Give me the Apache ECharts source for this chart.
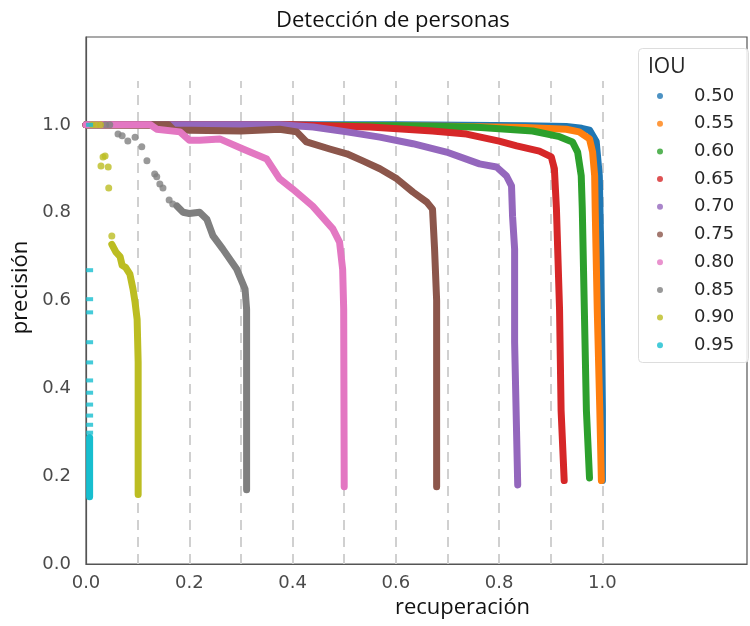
<!DOCTYPE html>
<html lang="es">
<head>
<meta charset="UTF-8">
<title>Detección de personas</title>
<style>
html, body { margin: 0; padding: 0; width: 100%; height: 100%; background: #fff; }
#main { width: 750px; height: 626px; }
</style>
</head>
<body>
<div id="main"></div>
<script src="https://cdn.jsdelivr.net/npm/echarts@6.0.0/dist/echarts.min.js"></script>
<script>
// IOU thresholds and matplotlib tab10 colours
var iouNames = ['0.50', '0.55', '0.60', '0.65', '0.70', '0.75', '0.80', '0.85', '0.90', '0.95'];
var iouColors = ['#1f77b4', '#ff7f0e', '#2ca02c', '#d62728', '#9467bd',
                 '#8c564b', '#e377c2', '#7f7f7f', '#bcbd22', '#17becf'];

// axis ticks and dashed guides
var recallTicks = [0, 0.2, 0.4, 0.6, 0.8, 1.0];
var precisionTicks = [0, 0.2, 0.4, 0.6, 0.8, 1.0];
var guideX = [0.1, 0.2, 0.3, 0.4, 0.5, 0.6, 0.7, 0.8, 0.9, 1.0];
var guideTop = 1.1;

// [recall, precision]
var curve50 = [[0, 1], [0.6, 1], [0.85, 0.998], [0.93, 0.996], [0.96, 0.992], [0.975, 0.988],
  [0.988, 0.962], [0.994, 0.884], [0.997, 0.7], [1.0, 0.35], [1.0, 0.19]];
var curve55 = [[0, 1], [0.7, 0.997], [0.85, 0.994], [0.93, 0.99], [0.955, 0.984], [0.975, 0.968],
  [0.981, 0.938], [0.985, 0.884], [0.986, 0.81], [0.99, 0.58], [0.995, 0.35], [0.998, 0.19]];
var curve60 = [[0, 1], [0.607, 0.998], [0.75, 0.995], [0.865, 0.986], [0.917, 0.973], [0.942, 0.961],
  [0.952, 0.938], [0.959, 0.884], [0.961, 0.81], [0.965, 0.58], [0.969, 0.35], [0.975, 0.196]];
var curve65 = [[0, 1], [0.4, 1], [0.55, 0.995], [0.671, 0.986], [0.737, 0.979], [0.8, 0.963],
  [0.834, 0.952], [0.878, 0.94], [0.901, 0.927], [0.907, 0.9], [0.911, 0.808], [0.917, 0.58],
  [0.92, 0.35], [0.926, 0.19]];
var curve70 = [[0, 1], [0.375, 1], [0.44, 0.995], [0.505, 0.984], [0.569, 0.972], [0.633, 0.957],
  [0.698, 0.938], [0.762, 0.911], [0.795, 0.904], [0.814, 0.884], [0.824, 0.861], [0.826, 0.792],
  [0.83, 0.717], [0.83, 0.505], [0.836, 0.18]];
var curve75 = [[0, 1], [0.16, 1], [0.17, 0.988], [0.3, 0.986], [0.375, 0.99], [0.408, 0.984],
  [0.427, 0.961], [0.472, 0.945], [0.505, 0.934], [0.536, 0.918], [0.569, 0.9], [0.602, 0.877],
  [0.633, 0.847], [0.66, 0.824], [0.671, 0.808], [0.675, 0.717], [0.679, 0.6], [0.679, 0.176]];
var curve80 = [[0, 1], [0.125, 1], [0.137, 0.99], [0.182, 0.984], [0.2, 0.965], [0.22, 0.965],
  [0.259, 0.968], [0.304, 0.945], [0.35, 0.922], [0.375, 0.877], [0.4, 0.854], [0.439, 0.815],
  [0.478, 0.763], [0.491, 0.733], [0.497, 0.671], [0.499, 0.58], [0.5, 0.176]];
var curve85 = [[0.176, 0.815], [0.188, 0.801], [0.2, 0.798], [0.22, 0.801], [0.234, 0.785],
  [0.246, 0.747], [0.265, 0.717], [0.292, 0.671], [0.308, 0.626], [0.311, 0.58], [0.311, 0.169]];
var curve90 = [[0.05, 0.728], [0.058, 0.71], [0.066, 0.7], [0.07, 0.68], [0.077, 0.675],
  [0.085, 0.66], [0.091, 0.626], [0.095, 0.596], [0.099, 0.557], [0.101, 0.459], [0.101, 0.158]];
var curve95 = [[0.007, 0.288], [0.007, 0.153]];

// loose points that are not joined
var dots85 = [[0.038, 1], [0.046, 1], [0.062, 0.979], [0.07, 0.975], [0.081, 0.963], [0.095, 0.972],
  [0.108, 0.95], [0.118, 0.918], [0.133, 0.888], [0.137, 0.882], [0.143, 0.865], [0.149, 0.856],
  [0.161, 0.829], [0.168, 0.82]];
var dots90 = [[0.012, 1], [0.02, 1], [0.028, 1], [0.029, 0.906], [0.033, 0.927], [0.037, 0.929],
  [0.043, 0.904], [0.044, 0.856], [0.05, 0.747]];
var dots95 = [[0.007, 1], [0.007, 0.669], [0.007, 0.603], [0.007, 0.573], [0.007, 0.505],
  [0.007, 0.459], [0.007, 0.418], [0.007, 0.39], [0.007, 0.363], [0.007, 0.338], [0.007, 0.317],
  [0.007, 0.299]];

var curves = [curve50, curve55, curve60, curve65, curve70, curve75, curve80, curve85, curve90, curve95];
var dots = [[], [], [], [], [], [], [], dots85, dots90, dots95];

var chart = echarts.init(document.getElementById('main'));

function tickLabel(list) {
  return function (v) {
    for (var i = 0; i < list.length; i++) {
      if (Math.abs(list[i] - v) < 1e-6) return v.toFixed(1);
    }
    return '';
  };
}

var series = [{
  type: 'line',
  data: [],
  silent: true,
  z: 1,
  markLine: {
    silent: true,
    z: 1,
    symbol: ['none', 'none'],
    label: { show: false },
    lineStyle: { type: [10, 7], color: '#d0d0d0', width: 2 },
    data: guideX.map(function (x) {
      return [{ coord: [x, 0] }, { coord: [x, guideTop] }];
    })
  }
}];

iouNames.forEach(function (name, i) {
  var color = iouColors[i];
  series.push({
    name: name,
    type: 'scatter',
    data: dots[i],
    symbol: i === 9 ? 'rect' : 'circle',
    symbolSize: i === 9 ? [7, 4] : 7,
    itemStyle: { color: color },
    z: 2
  });
  series.push({
    name: name,
    type: 'line',
    data: curves[i],
    symbol: 'none',
    showSymbol: false,
    lineStyle: { width: 7, color: color, cap: 'round', join: 'round' },
    itemStyle: { color: color },
    z: 2
  });
});

var option = {
  animation: false,
  backgroundColor: '#fff',
  title: {
    text: 'Detección de personas',
    left: 271,
    top: 5,
    textStyle: { fontFamily: 'Open Sans', fontSize: 22, fontWeight: 'normal', color: '#111' }
  },
  grid: {
    left: 86, right: 1, top: 37, bottom: 62,
    show: true, borderColor: '#555', borderWidth: 1.2, backgroundColor: 'transparent'
  },
  xAxis: {
    type: 'value',
    min: 0, max: 1.28, interval: 0.2,
    name: 'recuperación',
    nameLocation: 'middle',
    nameGap: 33,
    nameTextStyle: { fontFamily: 'Open Sans', fontSize: 22, color: '#111', padding: [0, 0, 0, 92] },
    axisLine: { show: true, lineStyle: { color: '#555', width: 1.2 } },
    axisTick: { show: false },
    splitLine: { show: false },
    axisLabel: {
      margin: 10,
      fontFamily: 'DejaVu Sans', fontSize: 18, color: '#4a4a4a',
      formatter: tickLabel(recallTicks)
    }
  },
  yAxis: {
    type: 'value',
    min: 0, max: 1.2, interval: 0.2,
    name: 'precisión',
    nameLocation: 'middle',
    nameGap: 52,
    nameTextStyle: { fontFamily: 'Open Sans', fontSize: 22, color: '#111', padding: [0, 0, 0, 26] },
    axisLine: { show: true, lineStyle: { color: '#555', width: 1.2 } },
    axisTick: { show: false },
    splitLine: { show: false },
    axisLabel: {
      margin: 15,
      fontFamily: 'DejaVu Sans', fontSize: 18, color: '#4a4a4a',
      formatter: tickLabel(precisionTicks)
    }
  },
  legend: {
    data: iouNames,
    orient: 'vertical',
    left: 657,
    top: 86,
    icon: 'circle',
    itemWidth: 16,
    itemHeight: 6,
    itemGap: 7.7,
    padding: 0,
    textStyle: {
      fontFamily: 'DejaVu Sans', fontSize: 18, color: '#262626',
      lineHeight: 20, padding: [0, 0, 0, 21]
    }
  },
  graphic: [{
    type: 'rect',
    left: 638, top: 48, z: 3,
    shape: { width: 110, height: 314, r: 4 },
    style: { fill: 'rgba(255,255,255,0.85)', stroke: '#dddddd', lineWidth: 1 }
  }, {
    type: 'text',
    left: 648, top: 57, z: 4,
    style: { text: 'IOU', font: '21px "Open Sans"', fill: '#262626' }
  }],
  series: series
};

chart.setOption(option);
</script>
</body>
</html>
